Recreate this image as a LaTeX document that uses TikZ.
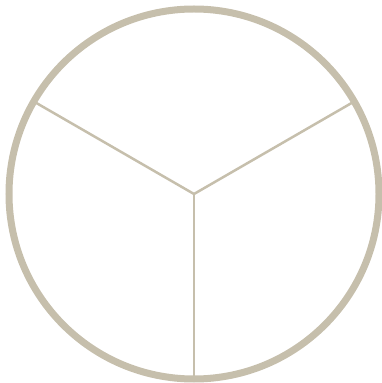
\documentclass[tikz,border=0pt]{standalone}
\usetikzlibrary{calc}
\definecolor{ring}{RGB}{198,191,172}
\tikzset{rim/.style={draw=ring,line width=7pt},spoke/.style={draw=ring,line width=2.5pt}}
\begin{document}
\begin{tikzpicture}[x=1pt,y=1pt]
\useasboundingbox (0,0) rectangle (381,383);
\coordinate (c) at (194,189);
\coordinate (ul) at ($(c)+(150:184)$);
\coordinate (ur) at ($(c)+(30:184)$);
\coordinate (bt) at ($(c)+(270:184)$);
\draw[spoke] (c) -- (ul);
\draw[spoke] (c) -- (ur);
\draw[spoke] (c) -- (bt);
\draw[rim] (c) circle[radius=185];
\end{tikzpicture}
\end{document}
